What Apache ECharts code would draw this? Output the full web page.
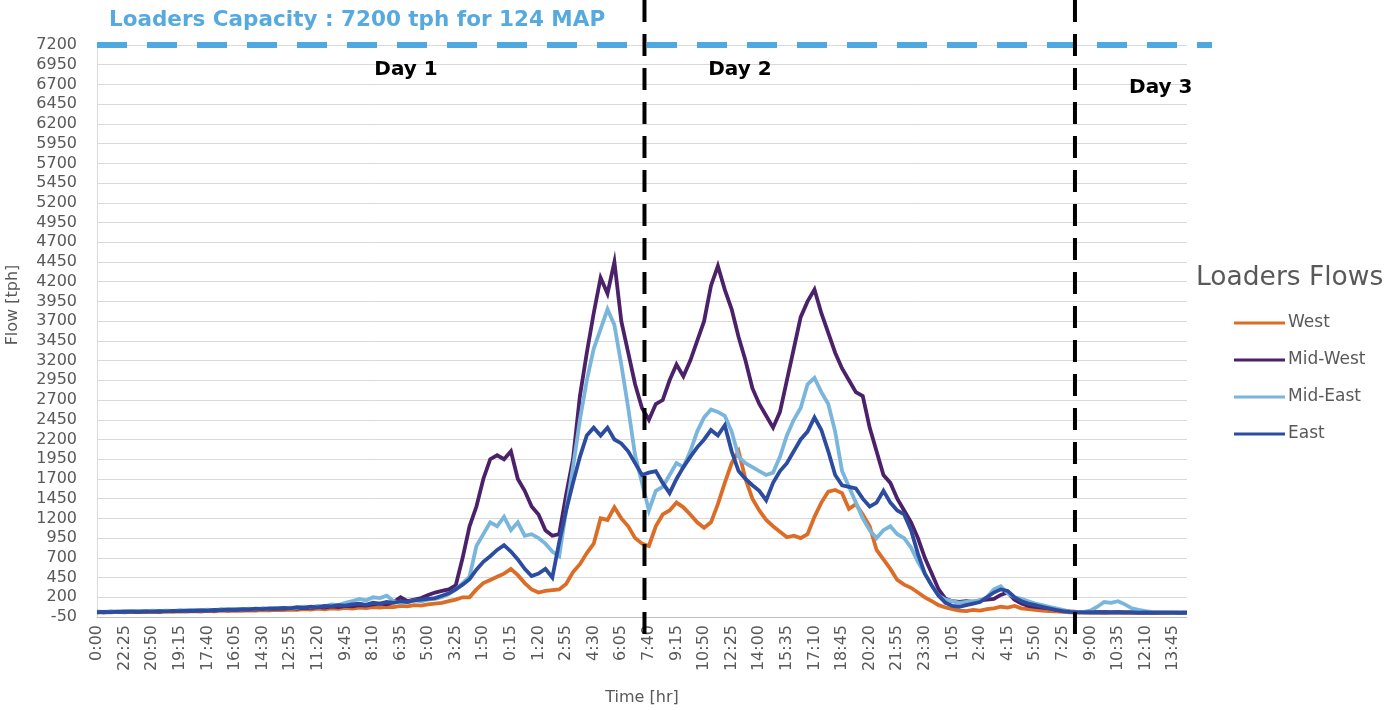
<!DOCTYPE html>
<html>
<head>
<meta charset="utf-8">
<script src="https://cdn.jsdelivr.net/npm/echarts@6/dist/echarts.min.js"></script>
<style>html,body{margin:0;padding:0;background:#fff}#c{width:1390px;height:711px}</style>
</head>
<body>
<div id="c"></div>
<script>
// ---- data ----
const tickLabels = ['0:00','22:25','20:50','19:15','17:40','16:05','14:30','12:55','11:20','9:45',
  '8:10','6:35','5:00','3:25','1:50','0:15','1:20','2:55','4:30','6:05',
  '7:40','9:15','10:50','12:25','14:00','15:35','17:10','18:45','20:20','21:55',
  '23:30','1:05','2:40','4:15','5:50','7:25','9:00','10:35','12:10','13:45'];
const stepsPerTick = 4; // samples between two labelled ticks

const west = [
10,12,8,15,10,14,12,18,15,12,
20,16,22,18,25,20,28,22,30,26,
32,28,35,30,38,34,40,36,45,40,
50,44,55,48,60,52,65,58,70,62,
75,70,80,75,90,85,100,95,110,120,
130,150,170,200,200,300,380,420,460,500,
560,480,380,300,260,280,290,300,370,520,
620,760,880,1200,1180,1340,1200,1100,950,880,
850,1100,1250,1300,1400,1340,1250,1150,1080,1150,
1380,1650,1900,2050,1700,1450,1300,1180,1100,1030,
960,980,950,1000,1220,1400,1540,1560,1520,1320,
1380,1250,1100,800,680,560,420,360,320,260,
200,150,100,70,50,30,25,40,30,50,
60,80,70,90,60,50,40,30,25,20,
15,10,8,5,6,5,4,5,6,4,
5,4,5,3,4,5,4,3,4];

const midWest = [
15,10,18,12,20,15,22,18,25,20,
28,24,30,26,35,30,38,32,42,36,
45,40,50,44,55,48,60,52,65,58,
70,62,78,70,85,76,92,85,100,95,
110,120,110,140,200,150,170,190,230,260,
280,300,350,700,1100,1350,1700,1950,2000,1950,
2050,1700,1550,1350,1250,1050,980,1000,1500,1950,
2750,3300,3800,4250,4050,4450,3700,3300,2900,2600,
2450,2650,2700,2950,3150,3000,3200,3450,3700,4150,
4400,4100,3850,3500,3200,2850,2650,2500,2350,2550,
2950,3350,3750,3950,4100,3800,3550,3300,3100,2950,
2800,2750,2350,2050,1750,1650,1450,1300,1150,950,
700,500,300,180,150,140,150,140,160,170,
180,230,260,170,120,90,80,70,60,40,
30,20,15,12,10,12,10,8,10,8,
8,6,8,6,5,6,5,4,5];

const midEast = [
20,15,22,18,25,20,28,22,30,25,
32,28,35,30,40,35,42,38,48,42,
50,45,55,50,60,55,65,60,70,65,
80,72,90,85,110,100,130,150,180,160,
200,190,220,150,130,140,160,150,170,180,
200,240,300,380,460,850,1000,1150,1100,1220,
1050,1150,980,1000,950,880,780,720,1300,1850,
2450,2950,3350,3600,3850,3650,3150,2600,2000,1650,
1300,1550,1600,1750,1900,1850,2050,2300,2480,2580,
2550,2500,2300,1980,1900,1850,1800,1750,1780,1980,
2250,2450,2600,2900,2980,2800,2650,2300,1800,1600,
1400,1200,1050,950,1050,1100,1000,950,830,650,
500,350,220,170,150,130,140,150,160,200,
300,340,250,200,180,150,120,100,80,60,
40,20,10,15,30,80,140,130,150,110,
60,40,25,15,10,8,6,5,5];

const east = [
10,15,12,18,14,20,16,22,18,25,
22,28,25,32,28,35,32,40,36,45,
40,50,45,55,50,60,55,65,60,75,
65,80,72,90,85,100,95,110,120,105,
130,120,140,130,150,140,160,170,180,190,
220,250,300,360,430,550,650,720,800,860,
780,680,560,470,500,560,450,900,1300,1650,
1980,2250,2350,2250,2350,2200,2150,2050,1900,1750,
1780,1800,1650,1520,1700,1850,1980,2100,2200,2320,
2250,2380,2050,1800,1700,1620,1550,1430,1650,1800,
1900,2050,2200,2300,2480,2320,2050,1750,1620,1600,
1580,1450,1350,1400,1550,1400,1300,1250,1050,750,
500,350,220,130,90,80,100,120,140,200,
260,300,280,200,150,120,100,80,60,40,
25,15,10,8,10,8,10,8,10,8,
8,6,8,6,5,6,5,4,5];

const seriesNames = ['West','Mid-West','Mid-East','East'];
const seriesData = [west, midWest, midEast, east];
const seriesColors = ['#DC6D27','#4B2169','#7AB5DC','#2C4D9F'];
const capacity = 7200;
const dayLinePositions = [19.84, 35.44];        // in tick units along x
const dayLabels = ['Day 1','Day 2','Day 3'];
const dayLabelAnchors = [[11.2, 6880], [23.3, 6880], [38.55, 6660]];
const titleText = 'Loaders Capacity : 7200 tph for 124 MAP';

// ---- chart ----
const FONT = 'DejaVu Sans';
const chart = echarts.init(document.getElementById('c'), null, {renderer:'canvas'});
const toPairs = arr => arr.map((v,i) => [i/stepsPerTick, v]);
const xMax = (west.length - 1) / stepsPerTick;

chart.setOption({
  animation: false,
  backgroundColor: '#fff',
  title: [
    {text: titleText, left: 104, top: 4,
     textStyle:{fontFamily: FONT, fontSize: 21.5, fontWeight:'bold', color:'#56AADF'}},
    {text: 'Loaders Flows', left: 1191, top: 260,
     textStyle:{fontFamily: FONT, fontSize: 26.5, fontWeight:'normal', color:'#595959'}}
  ],
  legend: {
    data: seriesNames, orient: 'vertical', left: 1229, top: 308,
    icon: 'rect', itemWidth: 51, itemHeight: 3, itemGap: 17,
    textStyle: {fontFamily: FONT, fontSize: 17, color:'#595959', lineHeight: 20, padding:[0,0,0,-2]}
  },
  grid: {left: 97, right: 1390 - 1187, top: 45, bottom: 711 - 617},
  xAxis: {
    type: 'value', min: 0, max: xMax, interval: 1,
    axisLine: {show: true, onZero: false, lineStyle:{color:'#BFBFBF', width: 1}},
    axisTick: {show: false},
    splitLine: {show: false},
    axisLabel: {rotate: 90, margin: 8, fontFamily: FONT, fontSize: 16, color:'#595959',
      showMaxLabel: false,
      formatter: v => Number.isInteger(v) && tickLabels[v] !== undefined ? tickLabels[v] : ''},
    name: 'Time [hr]', nameLocation: 'middle', nameGap: 73,
    nameTextStyle: {fontFamily: FONT, fontSize: 16, color:'#595959'}
  },
  yAxis: {
    type: 'value', min: -50, max: 7200, interval: 250,
    axisLine: {show: true, lineStyle:{color:'#D9D9D9'}},
    axisTick: {show: false},
    splitLine: {lineStyle:{color:'#D9D9D9', width: 1}},
    axisLabel: {margin: 20, fontFamily: FONT, fontSize: 16, color:'#595959',
      formatter: v => String(v)}
  },
  series: seriesData.map((d, k) => ({
    name: seriesNames[k], type: 'line', data: toPairs(d),
    showSymbol: false, symbol: 'none', sampling: null,
    color: seriesColors[k],
    lineStyle: {width: 3.8, color: seriesColors[k], join: 'miter'},
    z: 2 + k
  }))
});

// annotations placed through the axes
const yCap = chart.convertToPixel({yAxisIndex:0}, capacity);
const gLeft = chart.convertToPixel({xAxisIndex:0}, 0);
const gRight = chart.convertToPixel({xAxisIndex:0}, xMax);
const yBottom = chart.convertToPixel({yAxisIndex:0}, -50);
const graphics = [];
graphics.push({type:'line', z: 50,
  shape:{x1: gLeft, y1: yCap, x2: gRight + 25, y2: yCap},
  style:{stroke:'#4FA8E0', lineWidth: 6, lineDash:[30, 20]}});
dayLinePositions.forEach(p => {
  const px = chart.convertToPixel({xAxisIndex:0}, p);
  graphics.push({type:'line', z: 51,
    shape:{x1: px, y1: 0, x2: px, y2: yBottom + 20},
    style:{stroke:'#000', lineWidth: 4, lineDash:[22, 12]}});
});
dayLabels.forEach((t, i) => {
  const pt = chart.convertToPixel({xAxisIndex:0, yAxisIndex:0}, dayLabelAnchors[i]);
  graphics.push({type:'text', z: 52, x: pt[0], y: pt[1],
    style:{text: t, font: 'bold 20px "DejaVu Sans"', fill:'#000', textAlign:'center', textVerticalAlign:'middle'}});
});
graphics.push({type:'text', z: 52, x: 13, y: 305, rotation: Math.PI/2,
  style:{text:'Flow [tph]', font:'16px "DejaVu Sans"', fill:'#595959', textAlign:'center', textVerticalAlign:'middle'}});
chart.setOption({graphic: graphics});
</script>
</body>
</html>
